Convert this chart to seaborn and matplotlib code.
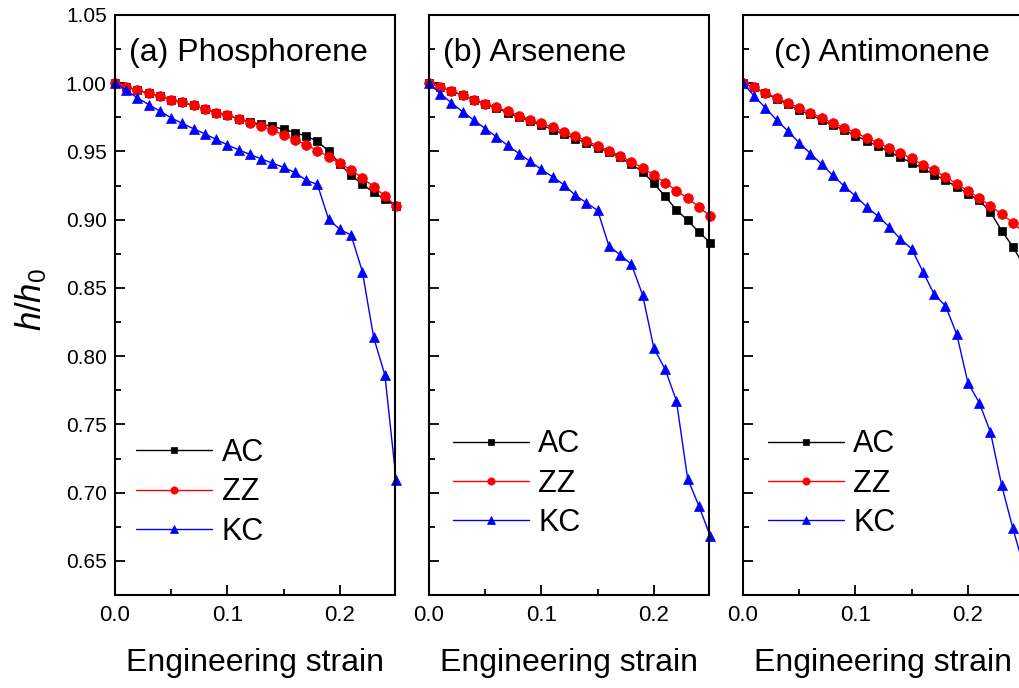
import matplotlib
matplotlib.use("Agg")
import matplotlib.pyplot as plt
from matplotlib.ticker import MultipleLocator, FixedLocator
import seaborn as sns
import pandas as pd

strain = [0.00, 0.01, 0.02, 0.03, 0.04, 0.05, 0.06, 0.07, 0.08, 0.09,
          0.10, 0.11, 0.12, 0.13, 0.14, 0.15, 0.16, 0.17, 0.18, 0.19,
          0.20, 0.21, 0.22, 0.23, 0.24, 0.25]

ac_phos = [1.000, 0.9973, 0.9949, 0.9927, 0.9905, 0.9880, 0.9859, 0.9837, 0.9810, 0.9785,
           0.9766, 0.9740, 0.9715, 0.9700, 0.9683, 0.9663, 0.9639, 0.9612, 0.9575, 0.9502,
           0.9409, 0.9324, 0.9261, 0.9200, 0.9149, 0.9100]
zz_phos = [1.000, 0.9973, 0.9949, 0.9927, 0.9905, 0.9880, 0.9859, 0.9837, 0.9810, 0.9785,
           0.9766, 0.9739, 0.9712, 0.9685, 0.9656, 0.9622, 0.9585, 0.9548, 0.9507, 0.9460,
           0.9414, 0.9363, 0.9307, 0.9241, 0.9173, 0.9100]
kc_phos = [1.000, 0.9949, 0.9892, 0.9844, 0.9795, 0.9746, 0.9705, 0.9666, 0.9629, 0.9588,
           0.9548, 0.9512, 0.9478, 0.9446, 0.9414, 0.9383, 0.9346, 0.9290, 0.9258, 0.9002,
           0.8929, 0.8887, 0.8619, 0.8138, 0.7862, 0.7094]

ac_ars = [1.000, 0.9973, 0.9941, 0.9912, 0.9877, 0.9846, 0.9817, 0.9784, 0.9752, 0.9722,
          0.9693, 0.9660, 0.9627, 0.9595, 0.9563, 0.9529, 0.9495, 0.9456, 0.9407, 0.9351,
          0.9266, 0.9171, 0.9073, 0.8995, 0.8909, 0.8831]
zz_ars = [1.000, 0.9973, 0.9941, 0.9914, 0.9880, 0.9851, 0.9824, 0.9793, 0.9763, 0.9734,
          0.9705, 0.9678, 0.9646, 0.9612, 0.9578, 0.9541, 0.9507, 0.9468, 0.9424, 0.9378,
          0.9327, 0.9270, 0.9214, 0.9158, 0.9094, 0.9026]
kc_ars = [1.000, 0.9924, 0.9856, 0.9790, 0.9729, 0.9668, 0.9607, 0.9544, 0.9485, 0.9427,
          0.9368, 0.9314, 0.9256, 0.9180, 0.9124, 0.9068, 0.8807, 0.8743, 0.8673, 0.8448,
          0.8058, 0.7904, 0.7674, 0.7103, 0.6903, 0.6684]

ac_anti = [1.000, 0.9969, 0.9925, 0.9885, 0.9845, 0.9802, 0.9771, 0.9729, 0.9693, 0.9656,
           0.9617, 0.9578, 0.9539, 0.9497, 0.9456, 0.9417, 0.9376, 0.9329, 0.9290, 0.9241,
           0.9192, 0.9141, 0.9058, 0.8919, 0.8802, 0.8660]
zz_anti = [1.000, 0.9969, 0.9929, 0.9892, 0.9856, 0.9819, 0.9785, 0.9746, 0.9709, 0.9673,
           0.9636, 0.9600, 0.9563, 0.9524, 0.9488, 0.9449, 0.9402, 0.9361, 0.9314, 0.9263,
           0.9212, 0.9160, 0.9100, 0.9041, 0.8978, 0.8905]
kc_anti = [1.000, 0.9905, 0.9819, 0.9729, 0.9649, 0.9563, 0.9485, 0.9405, 0.9324, 0.9246,
           0.9173, 0.9094, 0.9026, 0.8948, 0.8858, 0.8787, 0.8619, 0.8453, 0.8370, 0.8163,
           0.7806, 0.7660, 0.7446, 0.7055, 0.6738, 0.6450]

panel_titles = ["(a) Phosphorene", "(b) Arsenene", "(c) Antimonene"]
series_names = ["AC", "ZZ", "KC"]
panel_data = [
    [ac_phos, zz_phos, kc_phos],
    [ac_ars, zz_ars, kc_ars],
    [ac_anti, zz_anti, kc_anti],
]
x_ticks = [0.0, 0.1, 0.2]
x_tick_labels = ["0.0", "0.1", "0.2"]
y_ticks = [0.65, 0.70, 0.75, 0.80, 0.85, 0.90, 0.95, 1.00, 1.05]

sns.set_theme(style="ticks")
plt.rcParams["font.family"] = ["Liberation Sans", "DejaVu Sans"]
plt.rcParams["mathtext.fontset"] = "custom"
plt.rcParams["mathtext.it"] = "Liberation Sans:italic"
plt.rcParams["mathtext.rm"] = "Liberation Sans"
for key in ["text.color", "axes.labelcolor", "xtick.color", "ytick.color", "axes.edgecolor"]:
    plt.rcParams[key] = "black"

colors = ["black", "red", "blue"]
markers = ["s", "o", "^"]
msizes = [6.0, 7.0, 7.5]

fig = plt.figure(figsize=(10.19, 6.88), dpi=100)
lefts = [115 / 1019, 429 / 1019, 743 / 1019]
w = 280 / 1019
b = 93 / 688
h = 580 / 688

title_x = [0.05, 0.05, 0.112]
leg_anchor = [(0.075, 0.177), (0.085, 0.192), (0.088, 0.192)]

for i in range(3):
    ax = fig.add_axes([lefts[i], b, w, h])
    for j in range(3):
        df = pd.DataFrame({"strain": strain, "h": panel_data[i][j]})
        sns.lineplot(data=df, x="strain", y="h", ax=ax, color=colors[j],
                     marker=markers[j], markersize=msizes[j],
                     markeredgecolor=colors[j], markeredgewidth=0.5,
                     linewidth=1.0, label=series_names[j], sort=False,
                     clip_on=False if i < 2 else True)
    ax.set_xlim(0, 0.249)
    ax.set_ylim(0.625, 1.05)
    ax.xaxis.set_major_locator(FixedLocator(x_ticks))
    ax.set_xticklabels(x_tick_labels)
    ax.xaxis.set_minor_locator(MultipleLocator(0.05))
    ax.yaxis.set_major_locator(FixedLocator(y_ticks))
    ax.yaxis.set_minor_locator(MultipleLocator(0.025))
    ax.tick_params(axis="both", which="both", direction="in", top=False, right=False,
                   width=1.3, colors="black")
    ax.tick_params(axis="both", which="major", length=7)
    ax.tick_params(axis="both", which="minor", length=4)
    ax.tick_params(axis="y", pad=6, labelsize=15)
    ax.tick_params(axis="x", pad=7, labelsize=16)
    for sp in ax.spines.values():
        sp.set_visible(True)
        sp.set_linewidth(1.5)
        sp.set_color("black")
    if i == 0:
        ax.set_yticklabels([f"{v:.2f}" for v in y_ticks])
        ax.set_ylabel(r"$h/h_0$", fontsize=25)
        ax.yaxis.set_label_coords(-0.235, 0.51)
    else:
        ax.set_yticklabels([])
        ax.set_ylabel("")
    ax.set_xlabel("Engineering strain", fontsize=23, labelpad=16)
    ax.text(title_x[i], 0.935, panel_titles[i], transform=ax.transAxes,
            fontsize=23, ha="left", va="center")
    leg = ax.legend(loc="center left", bbox_to_anchor=leg_anchor[i], frameon=False,
                    fontsize=22, handlelength=2.5, handletextpad=0.3,
                    labelspacing=0.3, borderpad=0, borderaxespad=0, numpoints=1,
                    markerscale=0.75)

fig.savefig("out.png", dpi=100)
